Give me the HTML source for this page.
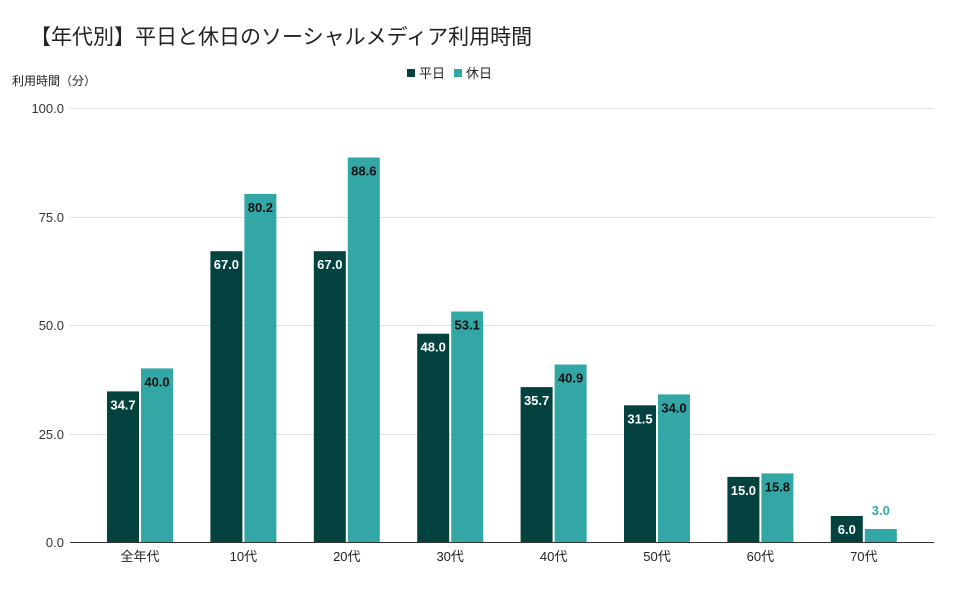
<!DOCTYPE html>
<html><head><meta charset="utf-8"><style>
body{margin:0;background:#fff;}
svg text{font-family:"Liberation Sans","Noto Sans CJK JP",sans-serif;}
.d{fill:#03423f}.l{fill:#33a7a6}
.w{font-size:13px;font-weight:bold;fill:#fff;text-anchor:middle}
.b{font-size:13px;font-weight:bold;fill:#111;text-anchor:middle}
.c{font-size:13px;fill:#222;text-anchor:middle}
</style></head><body>
<svg width="960" height="589" xmlns="http://www.w3.org/2000/svg">
<rect width="960" height="589" fill="#fff"/>
<text x="30" y="44" font-size="21" fill="#222">【年代別】平日と休日のソーシャルメディア利用時間</text>
<text x="12" y="85" font-size="12" fill="#222">利用時間（分）</text>
<rect x="407" y="69" width="8" height="8" fill="#03423f"/>
<text x="419" y="78" font-size="13" fill="#222">平日</text>
<rect x="454" y="69" width="8" height="8" fill="#33a7a6"/>
<text x="466" y="78" font-size="13" fill="#222">休日</text>
<g stroke="#e2e2e2" stroke-width="1">
<line x1="70" x2="934" y1="108.5" y2="108.5"/>
<line x1="70" x2="934" y1="217.5" y2="217.5"/>
<line x1="70" x2="934" y1="325.5" y2="325.5"/>
<line x1="70" x2="934" y1="434.5" y2="434.5"/>
</g>
<g font-size="13" fill="#333" text-anchor="end">
<text x="64" y="113">100.0</text>
<text x="64" y="222">75.0</text>
<text x="64" y="330">50.0</text>
<text x="64" y="439">25.0</text>
<text x="64" y="547">0.0</text>
</g>

<rect class="d" x="107" y="391.4" width="32" height="150.6"/>
<rect class="l" x="141" y="368.4" width="32" height="173.6"/>
<text class="w" x="123" y="409.4">34.7</text>
<text class="b" x="157" y="386.4">40.0</text>
<text class="c" x="140" y="561">全年代</text>

<rect class="d" x="210.4" y="251.2" width="32" height="290.8"/>
<rect class="l" x="244.4" y="193.9" width="32" height="348.1"/>
<text class="w" x="226.4" y="269.2">67.0</text>
<text class="b" x="260.4" y="211.9">80.2</text>
<text class="c" x="243.4" y="561">10代</text>

<rect class="d" x="313.8" y="251.2" width="32" height="290.8"/>
<rect class="l" x="347.8" y="157.5" width="32" height="384.5"/>
<text class="w" x="329.8" y="269.2">67.0</text>
<text class="b" x="363.8" y="175.5">88.6</text>
<text class="c" x="346.8" y="561">20代</text>

<rect class="d" x="417.2" y="333.7" width="32" height="208.3"/>
<rect class="l" x="451.2" y="311.5" width="32" height="230.5"/>
<text class="w" x="433.2" y="351.7">48.0</text>
<text class="b" x="467.2" y="329.5">53.1</text>
<text class="c" x="450.2" y="561">30代</text>

<rect class="d" x="520.6" y="387.1" width="32" height="154.9"/>
<rect class="l" x="554.6" y="364.5" width="32" height="177.5"/>
<text class="w" x="536.6" y="405.1">35.7</text>
<text class="b" x="570.6" y="382.5">40.9</text>
<text class="c" x="553.6" y="561">40代</text>

<rect class="d" x="624" y="405.3" width="32" height="136.7"/>
<rect class="l" x="658" y="394.4" width="32" height="147.6"/>
<text class="w" x="640" y="423.3">31.5</text>
<text class="b" x="674" y="412.4">34.0</text>
<text class="c" x="657" y="561">50代</text>

<rect class="d" x="727.4" y="476.9" width="32" height="65.1"/>
<rect class="l" x="761.4" y="473.4" width="32" height="68.6"/>
<text class="w" x="743.4" y="494.9">15.0</text>
<text class="b" x="777.4" y="491.4">15.8</text>
<text class="c" x="760.4" y="561">60代</text>

<rect class="d" x="830.8" y="516" width="32" height="26"/>
<rect class="l" x="864.8" y="529" width="32" height="13"/>
<text class="w" x="846.8" y="534">6.0</text>
<text class="b" x="880.8" y="515" style="fill:#33a7a6">3.0</text>
<text class="c" x="863.8" y="561">70代</text>

<line x1="70" x2="934" y1="542.5" y2="542.5" stroke="#333" stroke-width="1"/>
</svg>
</body></html>
